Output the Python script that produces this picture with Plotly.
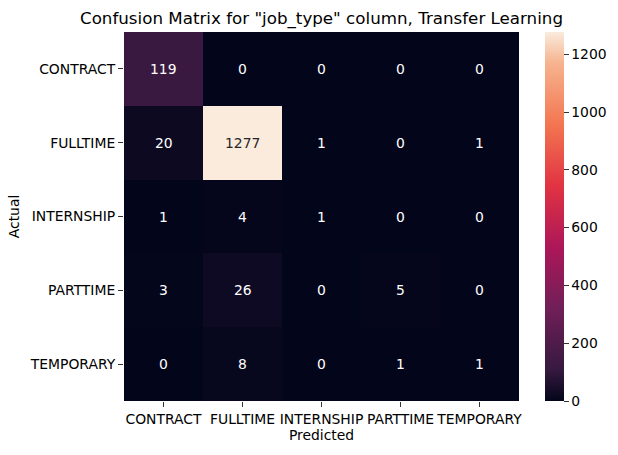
import plotly.graph_objects as go

labels = ["CONTRACT", "FULLTIME", "INTERNSHIP", "PARTTIME", "TEMPORARY"]
matrix = [
    [119, 0, 0, 0, 0],
    [20, 1277, 1, 0, 1],
    [1, 4, 1, 0, 0],
    [3, 26, 0, 5, 0],
    [0, 8, 0, 1, 1],
]
colorbar_ticks = [0, 200, 400, 600, 800, 1000, 1200]

rocket = [
    [0.0, "#03051a"], [0.083, "#35193e"], [0.25, "#701f57"], [0.417, "#ad1759"],
    [0.583, "#e13342"], [0.75, "#f37651"], [0.917, "#f6b48f"], [1.0, "#faebdd"],
]

W, H = 618, 455
L, T, B = 124, 32, 54
plot_w = W - L
dom_right = (519 - L) / plot_w
cb_x = (545 - L) / plot_w

zmax = max(max(r) for r in matrix)
annotations = []
for i, row in enumerate(matrix):
    for j, v in enumerate(row):
        frac = v / zmax
        annotations.append(dict(
            x=labels[j], y=labels[i], text=str(v), showarrow=False,
            font=dict(color="#262626" if frac > 0.6 else "white", size=13.9, family="DejaVu Sans"),
            xref="x", yref="y",
        ))

fig = go.Figure(go.Heatmap(
    z=matrix, x=labels, y=labels, colorscale=rocket, zmin=0, zmax=zmax,
    xgap=0, ygap=0,
    colorbar=dict(
        x=cb_x, xanchor="left", y=0.5, yanchor="middle", len=1, lenmode="fraction",
        xpad=0, ypad=0,
        thickness=19, outlinewidth=0, tickvals=colorbar_ticks, ticks="outside", ticklen=5,
        tickcolor="#333", tickfont=dict(size=13.9, family="DejaVu Sans", color="black"),
    ),
))

fig.update_layout(
    width=W, height=H, margin=dict(l=L, r=0, t=T, b=B, autoexpand=False),
    paper_bgcolor="white", plot_bgcolor="white",
    font=dict(family="DejaVu Sans", color="black"),
    title=dict(text='Confusion Matrix for "job_type" column, Transfer Learning',
               x=(L + 519) / 2 / W, xanchor="center", y=1 - 18 / H, yanchor="middle",
               font=dict(size=16.7, family="DejaVu Sans", color="black")),
    xaxis=dict(domain=[0, dom_right], title=dict(text="Predicted", font=dict(size=13.9), standoff=3),
               ticks="outside", ticklen=5, tickcolor="#333", tickfont=dict(size=13.9),
               tickangle=0, automargin=False,
               showgrid=False, zeroline=False, showline=False),
    yaxis=dict(autorange="reversed", title=dict(text="Actual", font=dict(size=13.9), standoff=6),
               ticks="outside", ticklen=5, tickcolor="#333", tickfont=dict(size=13.9),
               automargin=False,
               showgrid=False, zeroline=False, showline=False),
    annotations=annotations,
)

fig.write_html("out.html")
